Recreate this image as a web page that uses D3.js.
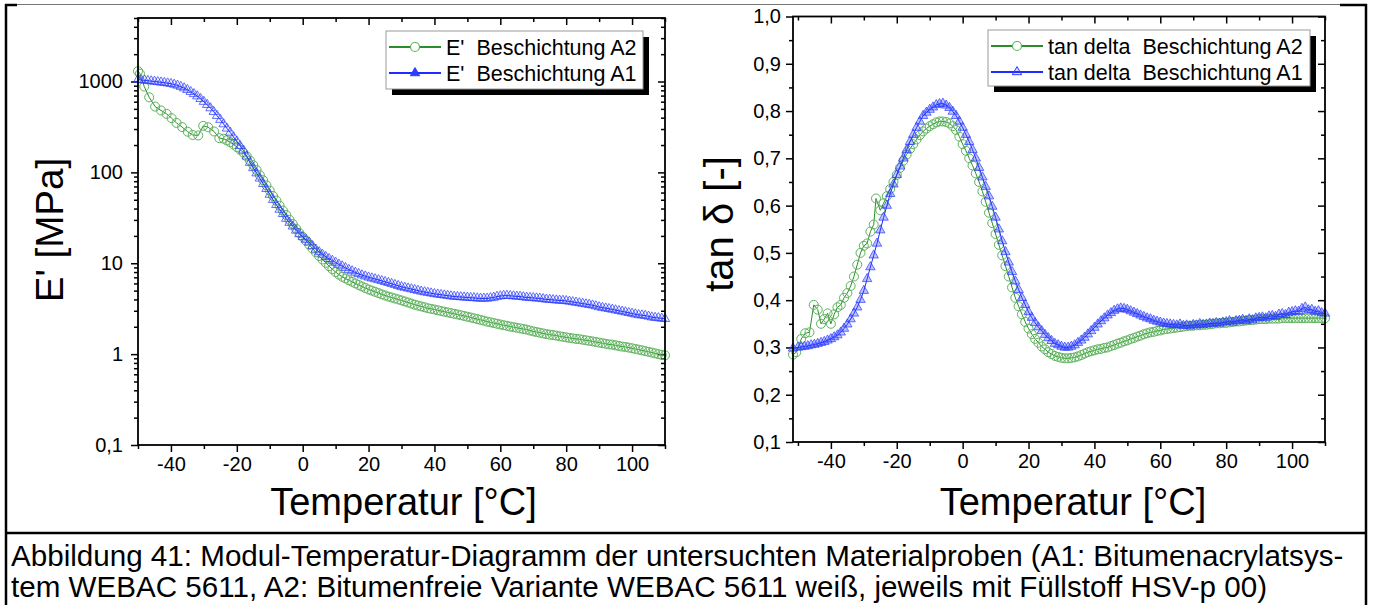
<!DOCTYPE html>
<html>
<head>
<meta charset="utf-8">
<script src="https://cdn.jsdelivr.net/npm/d3@7"></script>
<style>
  body { margin: 0; background: #fff; }
  text { font-family: Arial, "Liberation Sans", sans-serif; fill: #000; }
</style>
</head>
<body>
<svg id="chart"></svg>
<script>
// --------------------
// Data
// --------------------
// temperature grid of the measurement, 1 °C apart
const tGrid = [-50,-49,-48,-47,-46,-45,-44,-43,-42,-41,-40,-39,-38,-37,-36,-35,-34,-33,-32,-31,-30,-29,-28,-27,-26,-25,
  -24,-23,-22,-21,-20,-19,-18,-17,-16,-15,-14,-13,-12,-11,-10,-9,-8,-7,-6,-5,-4,-3,-2,-1,0,1,2,3,4,5,6,7,8,9,10,
  11,12,13,14,15,16,17,18,19,20,21,22,23,24,25,26,27,28,29,30,31,32,33,34,35,36,37,38,39,40,41,42,43,44,45,46,47,48,49,50,
  51,52,53,54,55,56,57,58,59,60,61,62,63,64,65,66,67,68,69,70,71,72,73,74,75,76,77,78,79,80,81,82,83,84,85,86,87,88,89,90,
  91,92,93,94,95,96,97,98,99,100,101,102,103,104,105,106,107,108,109,110];

// E' A1 [MPa], on tGrid
const eA1 = [1050,1040,1030,1020,1010,1000,990,980,970,958,945,927,905,877,845,810,770,730,690,645,600,555,510,465,420,380,
  340,305,275,245,220,196,175,150,128,112,98,86,75,66,57,50,44,39,35,31,28,25.5,23,21,19.5,18.2,17,15.5,14.2,13.3,12.5,11.8,11.2,10.7,10.2,
  9.7,9.3,8.9,8.5,8.2,7.9,7.65,7.4,7.2,7.0,6.85,6.7,6.55,6.4,6.25,6.1,5.95,5.8,5.65,5.5,5.4,5.3,5.2,5.1,5.0,4.9,4.82,4.75,4.68,4.6,4.55,4.5,4.45,4.4,4.35,4.3,4.28,4.25,4.22,4.2,
  4.17,4.15,4.12,4.1,4.1,4.1,4.15,4.2,4.3,4.35,4.4,4.4,4.38,4.35,4.32,4.3,4.25,4.2,4.18,4.15,4.12,4.1,4.05,4.0,3.98,3.95,3.92,3.9,3.88,3.85,3.8,3.75,3.7,3.65,3.6,3.55,3.5,3.45,3.38,3.3,
  3.25,3.2,3.15,3.1,3.05,3.0,2.95,2.9,2.85,2.8,2.75,2.7,2.68,2.65,2.6,2.55,2.52,2.5,2.47,2.45];

// E' A2 [MPa]: scattered start, then from -24 °C on the 1 °C grid
const eTempsA2Start = [-50,-49.4,-48.1,-46.6,-44.8,-43,-41.3,-39.8,-38.3,-36.6,-34.9,-33.4,-31.7,-30.2,-28.7,-26.9,-25.3];
const eA2Start = [1300,1220,880,670,530,480,440,395,350,315,280,258,255,325,314,282,238];
const eA2 = [235,225,215,203,190,178,165,150,135,120,106,93,82,72,63,55,49,43,38,34,30,27,24,21.5,19.5,17.7,16,14.5,13.2,12,11,10.1,9.3,8.6,8.0,
  7.5,7.1,6.8,6.5,6.25,6.0,5.77,5.55,5.35,5.15,5.0,4.85,4.7,4.55,4.42,4.3,4.2,4.1,4.0,3.9,3.8,3.7,3.6,3.5,3.42,3.35,3.28,3.2,3.15,3.1,3.04,2.98,2.93,2.88,2.83,2.78,2.73,2.68,2.63,2.58,
  2.53,2.48,2.43,2.38,2.33,2.28,2.24,2.2,2.16,2.12,2.08,2.05,2.01,1.98,1.95,1.92,1.89,1.86,1.82,1.78,1.75,1.72,1.69,1.66,1.64,1.62,1.6,1.57,1.55,1.53,1.51,1.49,1.47,1.46,1.44,1.42,1.4,1.38,1.36,1.34,
  1.32,1.3,1.28,1.27,1.25,1.23,1.21,1.2,1.18,1.16,1.14,1.12,1.1,1.08,1.06,1.04,1.02,1.0,0.98,0.97];

// tan delta A1: first point at -51.5 °C, then on tGrid
const tanA1Start = [0.298];
const tanA1 = [0.300,0.301,0.302,0.303,0.305,0.306,0.308,0.310,0.312,0.315,0.318,0.322,0.326,0.332,0.340,0.349,0.360,0.372,0.385,0.401,0.420,0.445,0.470,0.495,0.520,0.548,
  0.575,0.600,0.625,0.645,0.665,0.683,0.700,0.718,0.735,0.750,0.765,0.778,0.790,0.797,0.803,0.808,0.813,0.815,0.816,0.812,0.807,0.799,0.790,0.778,0.765,0.750,0.735,0.718,0.700,0.680,0.660,0.640,0.620,0.598,0.575,
  0.550,0.525,0.502,0.480,0.460,0.440,0.422,0.405,0.390,0.375,0.363,0.352,0.343,0.335,0.327,0.320,0.314,0.308,0.305,0.302,0.300,0.300,0.302,0.305,0.310,0.315,0.321,0.328,0.335,0.342,0.349,0.356,0.362,0.368,0.373,0.378,0.381,0.383,0.382,0.380,
  0.377,0.374,0.371,0.368,0.365,0.362,0.360,0.357,0.355,0.353,0.351,0.350,0.349,0.348,0.347,0.349,0.346,0.347,0.345,0.348,0.347,0.350,0.348,0.349,0.351,0.350,0.352,0.351,0.353,0.354,0.356,0.353,0.356,0.357,0.359,0.356,0.360,0.358,0.362,0.363,
  0.364,0.362,0.366,0.367,0.365,0.370,0.371,0.369,0.374,0.375,0.377,0.376,0.382,0.385,0.379,0.380,0.376,0.377,0.373,0.372];

// tan delta A2: scattered start, then from -23 °C on the 1 °C grid
const tanTempsA2Start = [-51.5,-50.5,-49,-47.8,-46.5,-45.2,-44,-43,-42,-41,-40,-39,-38,-37,-36,-35,-34,-33,-32,-31,-30,-29,-28,-27,-26.3,-25,-24];
const tanA2Start = [0.285,0.29,0.318,0.33,0.332,0.39,0.38,0.35,0.36,0.372,0.35,0.37,0.385,0.39,0.405,0.415,0.43,0.45,0.475,0.50,0.515,0.52,0.545,0.56,0.615,0.59,0.605];
const tanA2 = [0.62,0.635,0.65,0.665,0.68,0.695,0.708,0.72,0.73,0.74,0.749,0.757,0.763,0.768,0.772,0.776,0.778,0.778,0.777,0.774,0.768,0.76,0.746,0.73,0.716,0.70,0.685,0.668,0.65,0.63,0.608,0.585,0.563,0.54,
  0.517,0.495,0.472,0.45,0.427,0.405,0.387,0.37,0.354,0.34,0.328,0.318,0.31,0.302,0.296,0.29,0.286,0.282,0.28,0.278,0.277,0.277,0.278,0.279,0.281,0.284,0.287,0.29,0.292,0.294,0.296,0.297,0.299,0.30,0.303,0.305,0.308,0.31,0.313,0.315,
  0.318,0.32,0.323,0.325,0.328,0.33,0.332,0.333,0.335,0.336,0.338,0.339,0.34,0.341,0.342,0.343,0.344,0.345,0.346,0.346,0.347,0.347,0.348,0.348,0.349,0.35,0.351,0.351,0.352,0.352,0.353,0.354,0.355,0.355,0.356,0.357,0.358,0.358,0.359,0.36,
  0.36,0.36,0.361,0.361,0.361,0.361,0.362,0.362,0.362,0.362,0.362,0.362,0.362,0.362,0.362,0.362,0.362,0.362,0.362,0.362];

// tick values
const tempMajor = [-40,-20,0,20,40,60,80,100];
const tempMinor = [-50,-30,-10,10,30,50,70,90,110];
const eMajor = [0.1,1,10,100,1000];
const tanMajor = [0.1,0.2,0.3,0.4,0.5,0.6,0.7,0.8,0.9,1.0];
const tanMinor = [0.15,0.25,0.35,0.45,0.55,0.65,0.75,0.85,0.95];

const legendLeft = ["E'  Beschichtung A2", "E'  Beschichtung A1"];
const legendRight = ["tan delta  Beschichtung A2", "tan delta  Beschichtung A1"];
const captionLines = [
  "Abbildung 41: Modul-Temperatur-Diagramm der untersuchten Materialproben (A1: Bitumenacrylatsys-",
  "tem WEBAC 5611, A2: Bitumenfreie Variante WEBAC 5611 weiß, jeweils mit Füllstoff HSV-p 00)"
];

// --------------------
// Basic setup
// --------------------
const width = 1373;
const height = 605;
const green = "#5cb35c";
const greenLine = "#2a8c2a";
const blue = "#2b3dff";
const blueLine = "#1f2bff";

const svg = d3.select("#chart")
  .attr("width", width)
  .attr("height", height)
  .style("display", "block");

svg.append("rect").attr("width", width).attr("height", height).attr("fill", "#fff");

// outer frame (table cell borders)
svg.append("line").attr("x1", 6).attr("x2", 1342).attr("y1", 4.5).attr("y2", 4.5)
  .attr("stroke", "#777").attr("stroke-width", 1);
svg.append("line").attr("x1", 1340).attr("x2", 1367).attr("y1", 5).attr("y2", 5)
  .attr("stroke", "#000").attr("stroke-width", 2.5);
svg.append("line").attr("x1", 5).attr("x2", 17).attr("y1", 5).attr("y2", 5)
  .attr("stroke", "#000").attr("stroke-width", 2.5);
svg.append("line").attr("x1", 6).attr("x2", 6).attr("y1", 4).attr("y2", height)
  .attr("stroke", "#000").attr("stroke-width", 2.5);
svg.append("line").attr("x1", 1366).attr("x2", 1366).attr("y1", 4).attr("y2", height)
  .attr("stroke", "#000").attr("stroke-width", 2.5);
svg.append("line").attr("x1", 6).attr("x2", 1366).attr("y1", 533).attr("y2", 533)
  .attr("stroke", "#000").attr("stroke-width", 2.5);

// caption
svg.append("g").selectAll("text")
  .data(captionLines)
  .join("text")
    .attr("x", 11)
    .attr("y", (d, i) => 566 + i * 30.5)
    .attr("font-size", 29.6)
    .text(d => d);

// --------------------
// Panels
// --------------------
const commaFmt = d => d3.format(".1f")(d).replace(".", ",");

function drawPanel(p) {
  const x = d3.scaleLinear().domain(p.xDomain).range([p.left, p.right]);
  const y = (p.log ? d3.scaleLog() : d3.scaleLinear()).domain(p.yDomain).range([p.bottom, p.top]);
  const g = svg.append("g");

  const styleAxis = sel => {
    sel.select(".domain").remove();
    sel.selectAll(".tick line").attr("stroke", "#000").attr("stroke-width", 1.5);
    sel.selectAll(".tick text").attr("font-size", 20).attr("fill", "#000")
      .attr("font-family", "Arial, 'Liberation Sans', sans-serif");
  };

  // minor ticks
  g.append("g").attr("transform", `translate(0,${p.bottom})`)
    .call(d3.axisBottom(x).tickValues(p.xMinor).tickSize(4).tickFormat("")).call(styleAxis);
  g.append("g").attr("transform", `translate(0,${p.top})`)
    .call(d3.axisTop(x).tickValues(p.xMinor).tickSize(-4).tickFormat("")).call(styleAxis);
  g.append("g").attr("transform", `translate(${p.left},0)`)
    .call(d3.axisLeft(y).tickValues(p.yMinor).tickSize(4).tickFormat("")).call(styleAxis);
  g.append("g").attr("transform", `translate(${p.right},0)`)
    .call(d3.axisRight(y).tickValues(p.yMinor).tickSize(-4).tickFormat("")).call(styleAxis);

  // major ticks
  g.append("g").attr("transform", `translate(0,${p.bottom})`)
    .call(d3.axisBottom(x).tickValues(p.xMajor).tickSize(7).tickPadding(5).tickFormat(d => String(d)))
    .call(styleAxis);
  g.append("g").attr("transform", `translate(0,${p.top})`)
    .call(d3.axisTop(x).tickValues(p.xMajor).tickSize(-7).tickFormat("")).call(styleAxis);
  g.append("g").attr("transform", `translate(${p.left},0)`)
    .call(d3.axisLeft(y).tickValues(p.yMajor).tickSize(7).tickPadding(p.yPad).tickFormat(p.yFormat))
    .call(styleAxis);
  g.append("g").attr("transform", `translate(${p.right},0)`)
    .call(d3.axisRight(y).tickValues(p.yMajor).tickSize(-7).tickFormat("")).call(styleAxis);

  // series: A2 (green circles) first, A1 (blue triangles) on top
  const line = d3.line().x(d => x(d[0])).y(d => y(d[1]));
  const ptsA2 = d3.zip(p.tA2, p.vA2);
  const ptsA1 = d3.zip(p.tA1, p.vA1);

  g.append("path").datum(ptsA2).attr("d", line)
    .attr("fill", "none").attr("stroke", greenLine).attr("stroke-width", 1);
  g.append("g").selectAll("circle")
    .data(ptsA2)
    .join("circle")
      .attr("cx", d => x(d[0]))
      .attr("cy", d => y(d[1]))
      .attr("r", 4.5)
      .attr("fill", "none")
      .attr("stroke", green)
      .attr("stroke-width", 1);

  g.append("path").datum(ptsA1).attr("d", line)
    .attr("fill", "none").attr("stroke", blueLine).attr("stroke-width", 1);
  const tri = d3.symbol().type(d3.symbolTriangle).size(38);
  g.append("g").selectAll("path")
    .data(ptsA1)
    .join("path")
      .attr("transform", d => `translate(${x(d[0])},${y(d[1])})`)
      .attr("d", tri)
      .attr("fill", blue)
      .attr("fill-opacity", p.triFill)
      .attr("stroke", blue)
      .attr("stroke-opacity", 0.8)
      .attr("stroke-width", 0.9);

  // frame
  g.append("rect")
    .attr("x", p.left).attr("y", p.top)
    .attr("width", p.right - p.left).attr("height", p.bottom - p.top)
    .attr("fill", "none").attr("stroke", "#000").attr("stroke-width", 1.8);

  // axis titles
  g.append("text")
    .attr("x", (p.left + p.right) / 2 + p.xTitleShift)
    .attr("y", 515)
    .attr("text-anchor", "middle")
    .attr("font-size", 38)
    .text("Temperatur [°C]");
  g.append("text")
    .attr("transform", `translate(${p.yTitleX},${p.yTitleY}) rotate(-90)`)
    .attr("text-anchor", "middle")
    .attr("font-size", p.yTitleSize)
    .text(p.yTitle);

  // legend
  const lg = g.append("g");
  const lb = p.legendBox;
  lg.append("rect")
    .attr("x", lb.x + 6).attr("y", lb.y + 6).attr("width", lb.w).attr("height", lb.h)
    .attr("fill", "#000");
  lg.append("rect")
    .attr("x", lb.x).attr("y", lb.y).attr("width", lb.w).attr("height", lb.h)
    .attr("fill", "#fff").attr("stroke", "#999").attr("stroke-width", 1);
  p.legendLabels.forEach((label, i) => {
    const cy = lb.y + 16 + i * 26;
    const lx = lb.x + 3;
    const col = i === 0 ? greenLine : blueLine;
    lg.append("line").attr("x1", lx).attr("x2", lx + 52).attr("y1", cy).attr("y2", cy)
      .attr("stroke", col).attr("stroke-width", 2.2);
    if (i === 0) {
      lg.append("circle").attr("cx", lx + 26).attr("cy", cy).attr("r", 4.5)
        .attr("fill", "#fff").attr("stroke", green).attr("stroke-width", 1.2);
    } else {
      lg.append("path").attr("transform", `translate(${lx + 26},${cy})`).attr("d", tri)
        .attr("fill", blue).attr("fill-opacity", p.legendTriFill).attr("stroke", blue);
    }
    lg.append("text")
      .attr("x", lx + 57)
      .attr("y", cy + 7.5)
      .attr("font-size", 21.5)
      .style("white-space", "pre")
      .text(label);
  });
}

drawPanel({
  left: 138, right: 665, top: 18, bottom: 445,
  xDomain: [-50, 110], yDomain: [0.1, 5000], log: true,
  xMajor: tempMajor, xMinor: tempMinor,
  yMajor: eMajor,
  yMinor: d3.scaleLog().domain([0.1, 5000]).ticks().filter(v => !eMajor.includes(v)),
  yFormat: d => d < 1 ? "0,1" : String(d), yPad: 8,
  tA1: tGrid, vA1: eA1,
  tA2: eTempsA2Start.concat(tGrid.filter(t => t >= -24)), vA2: eA2Start.concat(eA2),
  triFill: 0.06, legendTriFill: 1,
  yTitle: "E' [MPa]", yTitleX: 63, yTitleY: 230, yTitleSize: 38.5, xTitleShift: 2,
  legendBox: { x: 386, y: 31, w: 257, h: 58 },
  legendLabels: legendLeft
});

drawPanel({
  left: 793, right: 1325, top: 16.5, bottom: 442,
  xDomain: [-51.5, 110], yDomain: [0.1, 1.0], log: false,
  xMajor: tempMajor, xMinor: tempMinor.filter(v => v >= -50),
  yMajor: tanMajor, yMinor: tanMinor,
  yFormat: commaFmt, yPad: 5,
  tA1: [-51.5].concat(tGrid), vA1: tanA1Start.concat(tanA1),
  tA2: tanTempsA2Start.concat(tGrid.filter(t => t >= -23)), vA2: tanA2Start.concat(tanA2),
  triFill: 0.3, legendTriFill: 0.2,
  yTitle: "tan δ [-]", yTitleX: 733, yTitleY: 224, yTitleSize: 40, xTitleShift: 14,
  legendBox: { x: 988, y: 30, w: 322, h: 56 },
  legendLabels: legendRight
});
</script>
</body>
</html>
